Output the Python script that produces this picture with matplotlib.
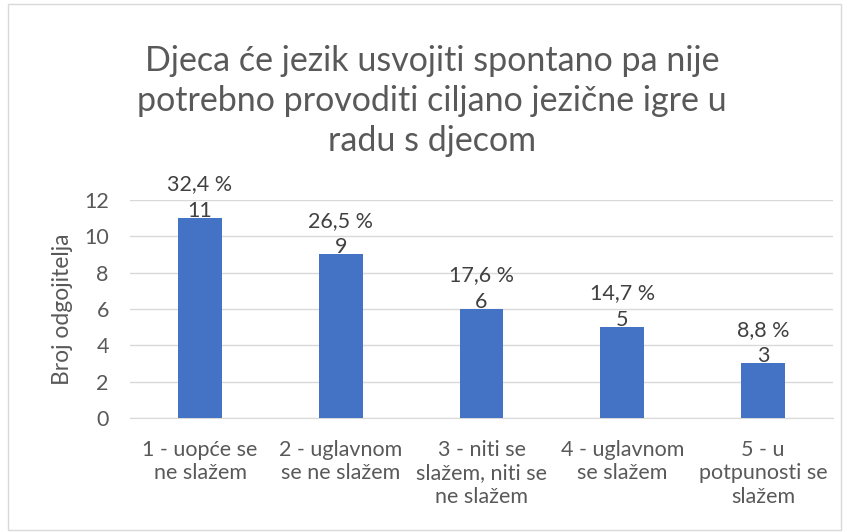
import matplotlib
matplotlib.use("Agg")
import matplotlib.pyplot as plt
from matplotlib.patches import Rectangle

plt.rcParams['font.family'] = ['Lato', 'DejaVu Sans']

categories = ["1 - uopće se\nne slažem", "2 - uglavnom\nse ne slažem",
              "3 - niti se\nslažem, niti se\nne slažem", "4 - uglavnom\nse slažem",
              "5 - u\npotpunosti se\nslažem"]
counts = [11, 9, 6, 5, 3]
percents = ["32,4 %", "26,5 %", "17,6 %", "14,7 %", "8,8 %"]
title = "Djeca će jezik usvojiti spontano pa nije\npotrebno provoditi ciljano jezične igre u\nradu s djecom"

fig = plt.figure(figsize=(8.49, 5.32), dpi=100)
ax = fig.add_axes([0.1527, 0.2143, 0.8289, 0.4098])
x = list(range(len(categories)))
ax.bar(x, counts, width=0.31, color="#4472C4", zorder=3)
ax.set_xlim(-0.5, len(categories) - 0.5)
ax.set_ylim(0, 12)
ax.set_yticks(range(0, 13, 2))
ax.set_xticks(x)
ax.set_xticklabels(categories, fontsize=15.5, color="#595959", linespacing=1.2)
ax.tick_params(axis='y', labelsize=15.5, labelcolor="#595959", length=0, pad=15)
ax.tick_params(axis='x', length=0, pad=16)
ax.grid(axis='y', color="#D9D9D9", linewidth=1, zorder=0)
for s in ["top", "right", "left"]:
    ax.spines[s].set_visible(False)
ax.spines["bottom"].set_color("#D9D9D9")
ax.set_ylabel("Broj odgojitelja", fontsize=16.5, color="#595959", labelpad=8)

for xi, c, p in zip(x, counts, percents):
    ax.annotate(f"{p}\n{c}", (xi, c), xytext=(0, -2), textcoords="offset points",
                ha="center", va="bottom", fontsize=15.5, color="#404040", linespacing=1.4)

fig.text(0.509, 0.915, title, ha="center", va="top", fontsize=24.5, color="#595959",
         linespacing=1.3)

fig.patches.append(Rectangle((8/849, 2/532), 833/849, 526/532, transform=fig.transFigure,
                             fill=False, edgecolor="#D9D9D9", linewidth=1))

fig.savefig("out.png", dpi=100)
